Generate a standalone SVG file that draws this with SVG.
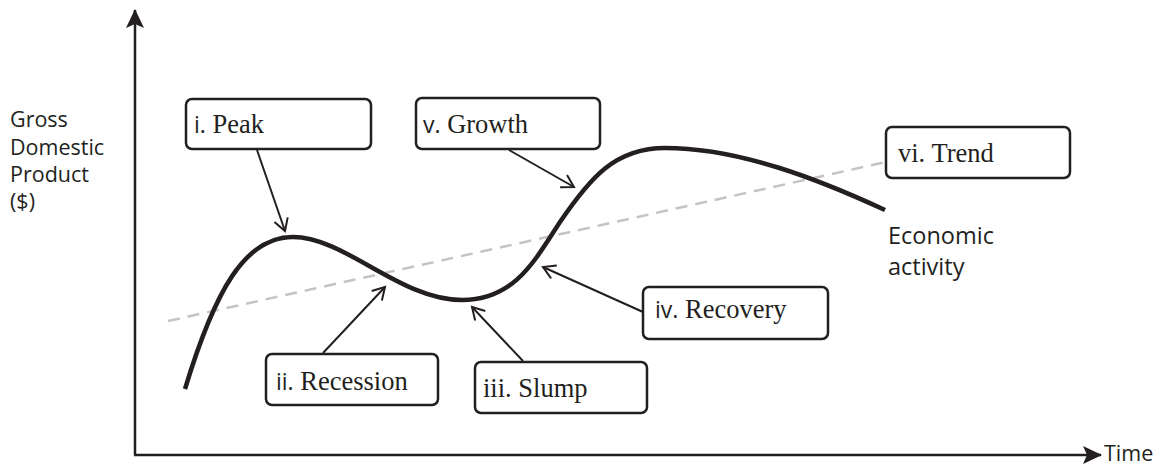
<svg xmlns="http://www.w3.org/2000/svg" width="1162" height="466" viewBox="0 0 1162 466">
<style>
.box{fill:#fff;stroke:#231f20;stroke-width:2.5}
.lbl{font-family:"Liberation Serif","Times New Roman",serif;font-size:26.5px;fill:#231f20}
.num{font-family:"Open Sans","DejaVu Sans",sans-serif;font-size:23px}
.sans{font-family:"Open Sans","DejaVu Sans",sans-serif;font-size:23.5px;fill:#231f20}
.ylab{font-family:"Open Sans","DejaVu Sans",sans-serif;font-size:21.5px;fill:#231f20}
.ptr{stroke:#231f20;stroke-width:2;fill:none;marker-end:url(#open)}
.axis{stroke:#231f20;stroke-width:2.5;fill:none}
</style>
<defs>
<marker id="open" markerWidth="16" markerHeight="16" refX="13" refY="8" orient="auto" markerUnits="userSpaceOnUse">
<path d="M1,1 L13,8 L1,15" fill="none" stroke="#231f20" stroke-width="2"/>
</marker>
<marker id="solid" markerWidth="20" markerHeight="18" refX="18" refY="9" orient="auto" markerUnits="userSpaceOnUse">
<path d="M0,0 L19,9 L0,18 L4,9 Z" fill="#231f20"/>
</marker>
</defs>
<g id="axes">
<line class="axis" x1="135" y1="455" x2="135" y2="10" marker-end="url(#solid)"/>
<line class="axis" x1="134" y1="455" x2="1101" y2="455" marker-end="url(#solid)"/>
<text class="ylab" x="1104" y="461">Time</text>
<text class="ylab" x="10" y="127">Gross</text>
<text class="ylab" x="10" y="155">Domestic</text>
<text class="ylab" x="10" y="182">Product</text>
<text class="ylab" x="10" y="209">($)</text>
</g>
<g id="trend-line">
<line x1="168" y1="321" x2="886" y2="162" stroke="#c4c3c6" stroke-width="2.5" stroke-dasharray="12,8"/>
</g>
<g id="curve">
<path d="M185,389 C215,290 245,237 293,237 C345,237 400,300 462,300 C515,300 535,260 560,222 C590,178 615,148 665,148 C740,148 820,180 885,210" fill="none" stroke="#231f20" stroke-width="4.5"/>
<text class="sans" x="888" y="244">Economic</text>
<text class="sans" x="888" y="275">activity</text>
</g>
<g id="connectors">
<line class="ptr" x1="257" y1="150" x2="285" y2="231"/>
<line class="ptr" x1="509" y1="150" x2="574" y2="187"/>
<line class="ptr" x1="323" y1="353" x2="385" y2="287"/>
<line class="ptr" x1="523" y1="361" x2="472" y2="307"/>
<line class="ptr" x1="643" y1="312" x2="543" y2="267"/>
</g>
<g id="peak">
<rect class="box" x="186" y="99" width="185" height="50" rx="6"/>
<text class="lbl" x="194" y="133"><tspan class="num">i.</tspan> Peak</text>
</g>
<g id="growth">
<rect class="box" x="416" y="98" width="184" height="51" rx="6"/>
<text class="lbl" x="423" y="133"><tspan class="num">v.</tspan> Growth</text>
</g>
<g id="trend">
<rect class="box" x="886" y="127" width="184" height="51" rx="6"/>
<text class="lbl" x="898" y="162">vi. Trend</text>
</g>
<g id="recession">
<rect class="box" x="266" y="354" width="172" height="51" rx="6"/>
<text class="lbl" x="276" y="390"><tspan class="num">ii.</tspan> Recession</text>
</g>
<g id="slump">
<rect class="box" x="475" y="362" width="172" height="51" rx="6"/>
<text class="lbl" x="483" y="397">iii. Slump</text>
</g>
<g id="recovery">
<rect class="box" x="643" y="287" width="185" height="52" rx="6"/>
<text class="lbl" x="655" y="318"><tspan class="num">iv.</tspan> Recovery</text>
</g>
</svg>
